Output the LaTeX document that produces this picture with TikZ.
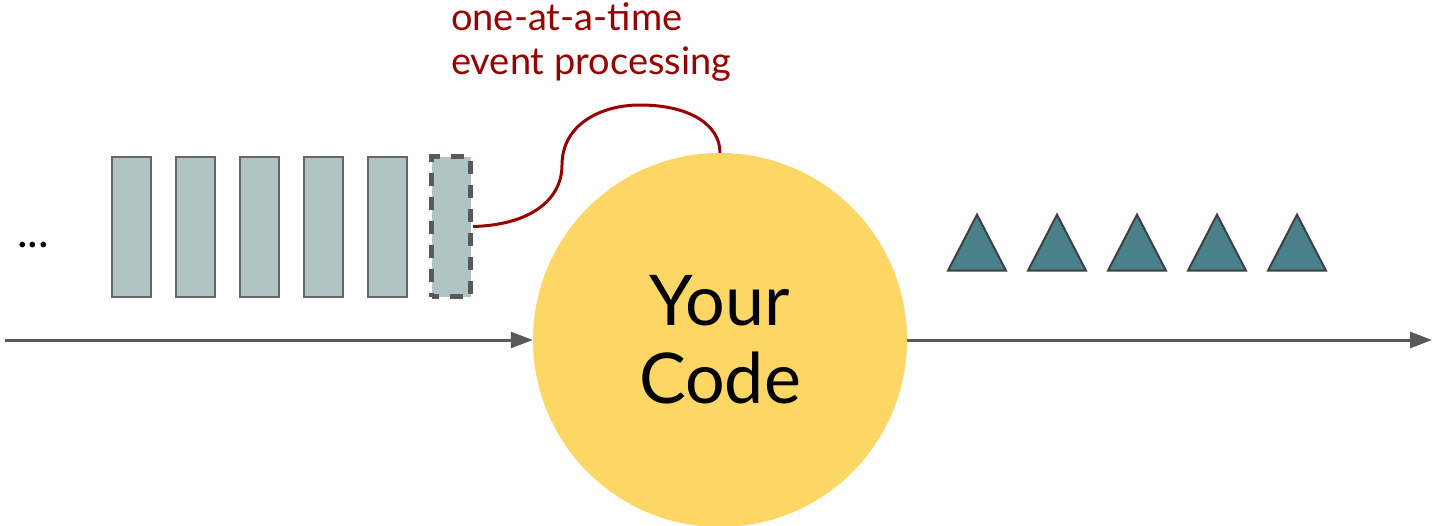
\documentclass[tikz,border=0pt]{standalone}
\usepackage{fontspec}
\setmainfont{Lato}
\usetikzlibrary{shapes.geometric,arrows.meta,positioning}
\definecolor{eventfill}{RGB}{175,197,195}
\definecolor{eventline}{RGB}{102,102,102}
\definecolor{flowgray}{RGB}{89,89,89}
\definecolor{codeyellow}{RGB}{253,215,102}
\definecolor{outteal}{RGB}{74,128,138}
\definecolor{outline}{RGB}{64,64,64}
\definecolor{notered}{RGB}{153,0,0}

\begin{document}
\begin{tikzpicture}[
    x=1pt, y=-1pt,
    node distance=23pt,
    event/.style={draw=eventline, line width=2pt, fill=eventfill, minimum width=39pt, minimum height=140pt, inner sep=0pt},
    result/.style={draw=outline, line width=2pt, fill=outteal, isosceles triangle, shape border rotate=90,
        isosceles triangle stretches, minimum width=58pt, minimum height=56pt, inner sep=0pt},
    flow/.style={-{Triangle[length=22pt,width=16pt]}, flowgray, line width=3pt}
]
    \useasboundingbox (0,0) rectangle (1432,525);

    % incoming events
    \node[event] (e1) at (131,226.5) {};
    \node[event, right=of e1] (e2) {};
    \node[event, right=of e2] (e3) {};
    \node[event, right=of e3] (e4) {};
    \node[event, right=of e4] (e5) {};
    \node[event, right=21.5pt of e5, draw=flowgray, line width=5pt, dash pattern=on 13pt off 11pt, dash phase=6pt] (cur) {};
    \node[anchor=base, font=\fontsize{45}{45}\selectfont] (more) at (33,247) {...};

    % the processor
    \node[circle, fill=codeyellow, minimum size=374pt, inner sep=0pt, align=center,
          font=\fontsize{70}{78}\selectfont] (code) at (720,340) {Your\\Code};

    % outgoing results
    \node[result] (r1) at (977,253) {};
    \node[result] (r2) at ([xshift=80pt]r1) {};
    \node[result] (r3) at ([xshift=80pt]r2) {};
    \node[result] (r4) at ([xshift=80pt]r3) {};
    \node[result] (r5) at ([xshift=80pt]r4) {};

    \coordinate (in) at (5,340);
    \coordinate (out) at (1432,340);
    \draw[flow] (in) -- (code.west);
    \draw[flow] (code.east) -- (out);

    % callout
    \node[anchor=base west, align=left, text=notered, inner sep=0pt,
          font=\fontsize{38}{44}\selectfont] (note) at (451,74) {one-at-a-time\\event processing};
    \draw[notered, line width=3pt] (cur.east) .. controls (530,225) and (562,200) .. (562,165)
        .. controls (562,125) and (600,105) .. (640,105)
        .. controls (690,105) and (720,125) .. (code.north);
\end{tikzpicture}
\end{document}
